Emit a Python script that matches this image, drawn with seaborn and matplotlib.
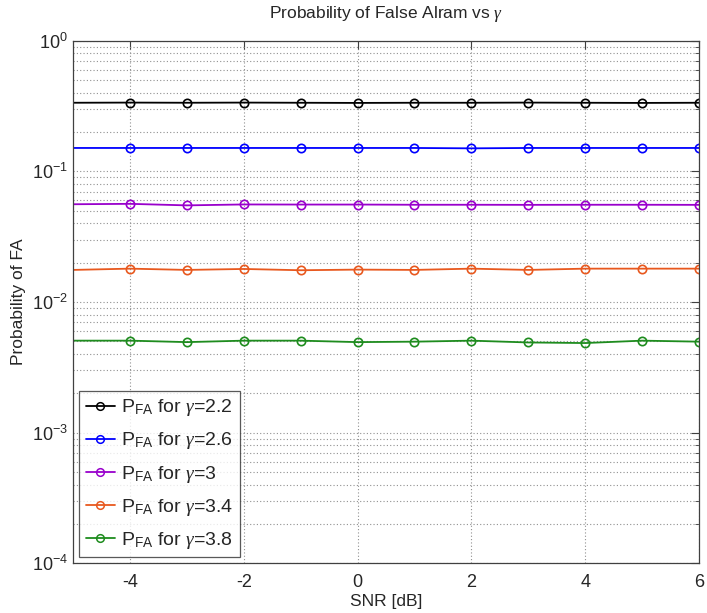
import numpy as np
import pandas as pd
import matplotlib
matplotlib.use("Agg")
import matplotlib.pyplot as plt
from matplotlib.ticker import LogLocator, NullFormatter
import seaborn as sns

snr_db = [-5, -4, -3, -2, -1, 0, 1, 2, 3, 4, 5, 6]
gammas = ["2.2", "2.6", "3", "3.4", "3.8"]
pfa_g22 = [0.335, 0.336, 0.335, 0.336, 0.335, 0.334, 0.335, 0.335, 0.336, 0.335, 0.334, 0.335]
pfa_g26 = [0.151, 0.151, 0.151, 0.151, 0.151, 0.151, 0.151, 0.150, 0.151, 0.151, 0.151, 0.151]
pfa_g30 = [0.0560, 0.0564, 0.0549, 0.0558, 0.0557, 0.0557, 0.0555, 0.0555, 0.0554, 0.0555, 0.0555, 0.0554]
pfa_g34 = [0.0176, 0.0180, 0.0176, 0.0179, 0.0175, 0.0177, 0.0176, 0.0180, 0.0176, 0.0180, 0.0180, 0.0180]
pfa_g38 = [0.00506, 0.00506, 0.00493, 0.00506, 0.00506, 0.00493, 0.00497, 0.00506, 0.00490, 0.00485, 0.00506, 0.00497]
colors = ["#000000", "#0000ff", "#9900cc", "#e8581e", "#1e8c1e"]

series = [pfa_g22, pfa_g26, pfa_g30, pfa_g34, pfa_g38]
df = pd.concat(
    [pd.DataFrame({"snr": snr_db, "pfa": vals, "gamma": g}) for g, vals in zip(gammas, series)],
    ignore_index=True,
)

sns.set_style("white")
plt.rcParams["font.family"] = ["Liberation Sans", "DejaVu Sans"]
plt.rcParams["mathtext.fontset"] = "custom"
plt.rcParams["mathtext.rm"] = "Liberation Sans"
plt.rcParams["mathtext.it"] = "Liberation Serif:italic"
plt.rcParams["axes.unicode_minus"] = False

fig = plt.figure(figsize=(7.07, 6.13), dpi=100)
ax = fig.add_axes([0.1033, 0.0811, 0.8854, 0.8525])

sns.lineplot(
    data=df, x="snr", y="pfa", hue="gamma", palette=colors, ax=ax,
    marker="o", markersize=6, markerfacecolor="none", markeredgewidth=1.2,
    linewidth=1.3, markevery=list(range(1, len(snr_db))), legend=False,
)
# open circles in the line colour
for line, c in zip(ax.lines, colors):
    line.set_markeredgecolor(c)
    line.set_markerfacecolor("none")

ax.set_yscale("log")
ax.set_xlim(-5, 6)
ax.set_ylim(1e-4, 1)
ax.set_xticks([-4, -2, 0, 2, 4, 6])
ax.yaxis.set_major_locator(LogLocator(base=10, numticks=10))
ax.yaxis.set_minor_locator(LogLocator(base=10, subs=np.arange(2, 10), numticks=20))
ax.yaxis.set_minor_formatter(NullFormatter())

ax.grid(True, which="major", axis="both", linestyle=(0, (1, 2)), color="#909090", linewidth=0.8)
ax.grid(True, which="minor", axis="y", linestyle=(0, (1, 2)), color="#909090", linewidth=0.8)
ax.tick_params(axis="both", which="both", direction="in", top=True, right=True,
               labelsize=13, color="#404040")
ax.tick_params(axis="x", which="major", pad=8)
ax.tick_params(which="major", length=6)
ax.tick_params(which="minor", length=3)
for s in ax.spines.values():
    s.set_color("#404040")
    s.set_linewidth(0.9)

ax.set_xlabel("SNR [dB]", fontsize=12.5, labelpad=2)
ax.set_ylabel("Probability of FA", fontsize=12.5, labelpad=4)
ax.set_title(r"Probability of False Alram vs $\mathit{\gamma}$", fontsize=12.5, pad=16)

handles = [
    plt.Line2D([], [], color=c, marker="o", markersize=5.5, markerfacecolor="none",
               linewidth=1.3, markeredgewidth=1.1)
    for c in colors
]
labels = [r"P$_{\mathregular{FA}}$ for $\mathit{\gamma}$=" + g for g in gammas]
leg = ax.legend(handles, labels, loc="lower left", fontsize=14, frameon=True, fancybox=False,
                edgecolor="#303030", borderaxespad=0.3, handlelength=1.5, handletextpad=0.3,
                labelspacing=0.62, borderpad=0.35)
leg.get_frame().set_linewidth(0.9)

fig.savefig("out.png", dpi=100)
